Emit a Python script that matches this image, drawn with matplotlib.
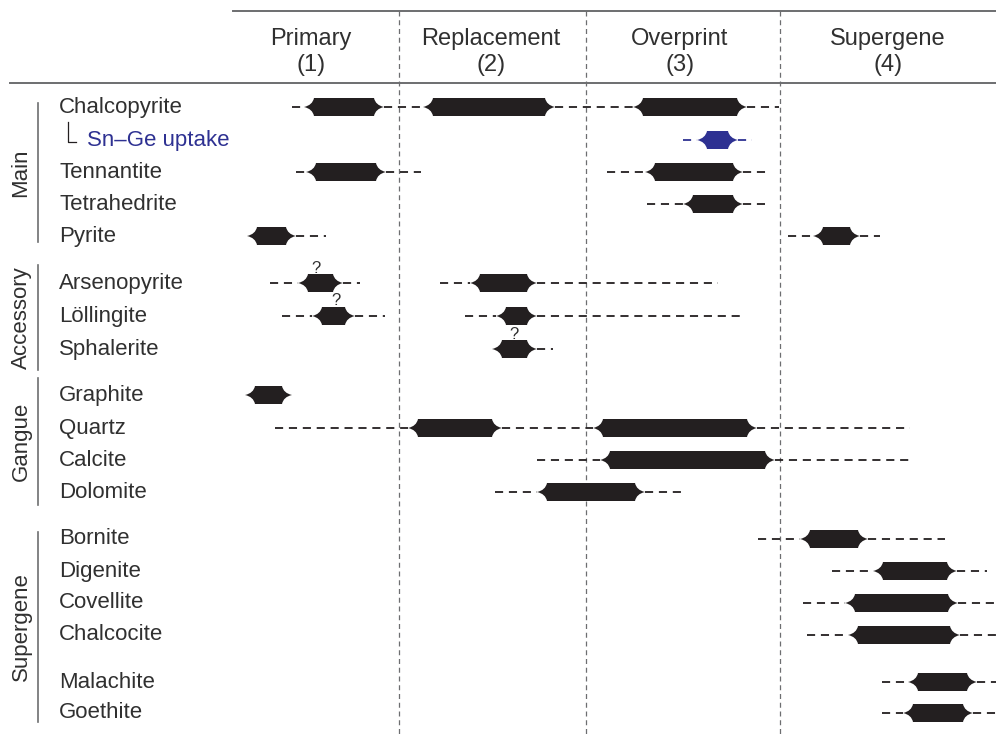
import matplotlib
matplotlib.use("Agg")
import matplotlib.pyplot as plt
from matplotlib.path import Path
from matplotlib.patches import PathPatch

plt.rcParams['font.family'] = ['Liberation Sans', 'DejaVu Sans']

# ---------------- data ----------------
stages = ["Primary\n(1)", "Replacement\n(2)", "Overprint\n(3)", "Supergene\n(4)"]
stage_bounds = [233, 399, 586, 780, 996]
stage_centers = [311, 491, 680, 888]

minerals = ["Chalcopyrite", "Sn\u2013Ge uptake", "Tennantite", "Tetrahedrite", "Pyrite",
            "Arsenopyrite", "L\u00f6llingite", "Sphalerite",
            "Graphite", "Quartz", "Calcite", "Dolomite",
            "Bornite", "Digenite", "Covellite", "Chalcocite", "Malachite", "Goethite"]
row_y = [107, 140, 172, 204, 236, 283, 316, 349, 395, 428, 460, 492,
         539, 571, 603, 635, 682, 713]

# (dashed start, solid start, solid end, dashed end) for each occurrence
intervals = [
    [(292, 304, 384, 423), (423, 423, 555, 633), (633, 633, 747, 779)],
    [(683, 697, 738, 752)],
    [(296, 306, 386, 421), (607, 645, 743, 770)],
    [(647, 683, 743, 765)],
    [(247, 247, 296, 326), (788, 813, 860, 880)],
    [(270, 298, 343, 360), (440, 470, 537, 718)],
    [(282, 312, 355, 385), (465, 496, 537, 742)],
    [(492, 492, 537, 553)],
    [(245, 245, 292, 292)],
    [(275, 408, 502, 593), (593, 593, 757, 910)],
    [(537, 600, 775, 913)],
    [(495, 537, 645, 682)],
    [(758, 800, 868, 945)],
    [(832, 873, 957, 987)],
    [(803, 845, 958, 996)],
    [(807, 848, 960, 996)],
    [(882, 908, 977, 996)],
    [(882, 903, 973, 996)],
]
highlight = [False, True] + [False] * 16

uncertain_x = [316, 336, 514]
uncertain_y = [268, 300, 334]

groups = ["Main", "Accessory", "Gangue", "Supergene"]
group_span = [(103, 242), (265, 370), (378, 505), (532, 722)]

DARK = "#231F20"
TEXT = "#303030"
BLUE = "#2E3192"
GRAY = "#6d6e70"

fig = plt.figure(figsize=(9.96, 7.37), dpi=100)
ax = fig.add_axes([0, 0, 1, 1])
ax.set_xlim(0, 996)
ax.set_ylim(737, 0)
ax.axis("off")

# header lines
ax.plot([stage_bounds[0], stage_bounds[-1]], [11, 11], color=GRAY, lw=1.4)
ax.plot([10, 996], [83, 83], color=GRAY, lw=1.4)
for xb in stage_bounds[1:-1]:
    ax.plot([xb, xb], [11, 737], color=GRAY, lw=0.9, ls=(0, (4, 3)))
for name, xc in zip(stages, stage_centers):
    ax.text(xc, 52, name, ha="center", va="center", fontsize=17,
            color=TEXT, linespacing=1.2)

# mineral labels
for name, y, hl in zip(minerals, row_y, highlight):
    if hl:
        ax.text(87, y, name, ha="left", va="center", fontsize=16, color=BLUE)
        ax.plot([68, 68, 76], [122, 142, 142], color=DARK, lw=0.9)
    else:
        ax.text(59, y, name, ha="left", va="center", fontsize=16, color=TEXT)

# group labels
for g, (y0, y1) in zip(groups, group_span):
    ax.plot([38, 38], [y0, y1], color=GRAY, lw=1.2)
    ax.text(21, (y0 + y1) / 2, g, rotation=90, ha="center", va="center",
            fontsize=16, color=TEXT)

H = 18.0
T = 10.0


def bar(x0, x1, yc, color):
    t = min(T, (x1 - x0) / 2.5)
    top, bot = yc - H / 2, yc + H / 2
    verts = [(x0, yc),
             (x0 + t * 0.85, yc - H * 0.1), (x0 + t, top),
             (x1 - t, top),
             (x1 - t * 0.85, yc - H * 0.1), (x1, yc),
             (x1 - t * 0.85, yc + H * 0.1), (x1 - t, bot),
             (x0 + t, bot),
             (x0 + t * 0.85, yc + H * 0.1), (x0, yc),
             (x0, yc)]
    codes = [Path.MOVETO,
             Path.CURVE3, Path.CURVE3,
             Path.LINETO,
             Path.CURVE3, Path.CURVE3,
             Path.CURVE3, Path.CURVE3,
             Path.LINETO,
             Path.CURVE3, Path.CURVE3,
             Path.CLOSEPOLY]
    ax.add_patch(PathPatch(Path(verts, codes), facecolor=color,
                           edgecolor="none", zorder=3))


for y, ivs, hl in zip(row_y, intervals, highlight):
    c = BLUE if hl else DARK
    for d0, s0, s1, d1 in ivs:
        if s0 > d0:
            ax.plot([d0, s0], [y, y], color=c, lw=1.3, ls=(0, (4.5, 3.2)), zorder=2)
        if d1 > s1:
            ax.plot([s1, d1], [y, y], color=c, lw=1.3, ls=(0, (4.5, 3.2)), zorder=2)
        bar(s0, s1, y, c)

for x, y in zip(uncertain_x, uncertain_y):
    ax.text(x, y, "?", ha="center", va="center", fontsize=12, color=TEXT)

fig.savefig("out.png", dpi=100)
